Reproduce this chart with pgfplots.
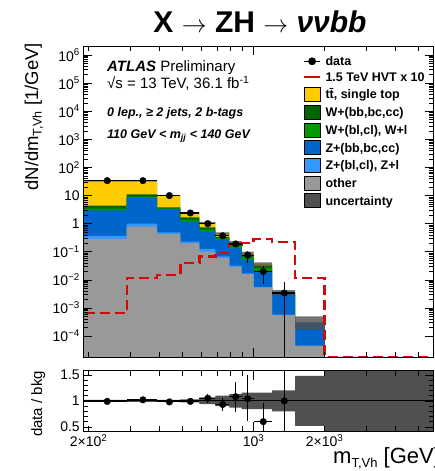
\documentclass[border=0pt]{standalone}
\usepackage{pgfplots}
\pgfplotsset{compat=1.18}
\usepackage{pgfplotstable}
\usepackage{fontspec}
\setmainfont{Liberation Sans}
\definecolor{ttc}{RGB}{255,204,0}
\definecolor{whf}{RGB}{0,102,0}
\definecolor{wl}{RGB}{0,153,0}
\definecolor{zhf}{RGB}{0,102,204}
\definecolor{zl}{RGB}{51,153,255}
\definecolor{oth}{RGB}{153,153,153}
\definecolor{sig}{RGB}{210,10,10}
\definecolor{unc}{RGB}{80,80,80}

\pgfplotstableread{
x other zl zhf wl whf tt
190 0.29 0.37 3.0 3.4 4.4 32
290 0.78 1.0 8.3 9.0 11 32
390 0.43 0.49 3.1 3.4 3.8 10
490 0.20 0.23 1.18 1.35 1.68 2.5
590 0.10 0.125 0.52 0.62 0.74 1.1
690 0.06 0.068 0.27 0.31 0.34 0.45
790 0.029 0.032 0.135 0.16 0.18 0.21
890 0.016 0.017 0.055 0.065 0.075 0.087
1000 0.0053 0.0056 0.020 0.026 0.032 0.036
1200 0.00056 0.00058 0.0031 0.0033 0.0034 0.0036
1500 0.000045 0.000046 0.00030 0.00030 0.00030 0.00030
2000 0.000045 0.000046 0.00030 0.00030 0.00030 0.00030
}\bkg

\pgfplotstableread{
x y xm xp ym yp
240 34 50 50 0.6 0.6
340 34 50 50 0.6 0.6
440 10 50 50 0.32 0.32
540 2.4 50 50 0.15 0.15
640 1.0 50 50 0.1 0.1
740 0.37 50 50 0.06 0.06
840 0.19 50 50 0.045 0.04
945 0.076 55 55 0.035 0.032
1100 0.020 100 100 0.0126 0.012
1350 0.0034 150 150 0.00339 0.0053
}\data

\pgfplotstableread{
x y xm xp ym yp
240 0.99 50 50 0.02 0.02
340 1.02 50 50 0.02 0.02
440 0.98 50 50 0.03 0.03
540 0.99 50 50 0.04 0.04
640 1.05 50 50 0.09 0.09
740 0.93 50 50 0.12 0.12
840 1.08 50 50 0.29 0.29
945 1.04 55 55 0.42 0.46
1100 0.60 100 100 0.6 0.36
1350 1.00 150 150 3 3
}\ratio

\pgfplotsset{
 boxleg/.style={legend image code/.code={\fill[##1] (0pt,-2.5pt) rectangle (16pt,11.5pt);}},
 lineleg/.style={legend image code/.code={\draw[##1] (0pt,4.5pt) -- (16pt,4.5pt);}},
 dataleg/.style={legend image code/.code={\draw[mark repeat=2,mark phase=2,##1] plot coordinates {(0pt,4.5pt) (8pt,4.5pt) (16pt,4.5pt)};}},
}

\begin{document}
\begin{tikzpicture}
\begin{axis}[
  scale only axis, width=350.4pt,
  xmode=log, xmin=190, xmax=5800,
  xtick={1000}, minor xtick={300,400,500,600,700,800,900,3000,4000,5000},
  extra x ticks={200,2000}, extra x tick style={major tick length=5pt},
  tick align=inside, major tick length=9pt, minor tick length=5pt,
  tick style={black, line width=0.6pt},
  axis line style={line width=0.8pt},
  axis on top,
  ticklabel style={font=\fontsize{14}{16}\selectfont},
  at={(83.3pt,-357pt)}, anchor=south west,
  height=311pt,
  ymode=log, log origin y=infty,
  ymin=1.8e-5, ymax=2.1e6,
  xticklabels={}, extra x tick labels={},
  ytick={1e-4,1e-3,0.01,0.1,1,10,100,1e3,1e4,1e5,1e6},
  yticklabel={\pgfmathtruncatemacro{\ee}{round(\tick/2.302585093)}\ifnum\ee=0 1\else\ifnum\ee=1 10\else\ifnum\ee<0 10\textsuperscript{−\the\numexpr-\ee\relax}\else 10\textsuperscript{\ee}\fi\fi\fi},
  legend cell align=left,
  legend style={at={(0.627,0.9669)}, anchor=north west, draw=none, fill=none,
    inner sep=0pt, outer sep=0pt, row sep=3pt, column sep=4.3pt,
    font=\fontsize{12.5}{14}\selectfont\bfseries,
    cells={anchor=base west},
    nodes={inner sep=0pt, text height=9.5pt, text depth=3pt}},
]
\addlegendimage{dataleg, black, line width=1.2pt, mark=*, mark size=3.3pt}
\addlegendentry{data}
\addlegendimage{lineleg, sig, line width=2.2pt}
\addlegendentry{1.5 TeV HVT x 10}
\addlegendimage{boxleg, fill=ttc}
\addlegendentry{t\={t}, single top}
\addlegendimage{boxleg, fill=whf}
\addlegendentry{W+(bb,bc,cc)}
\addlegendimage{boxleg, fill=wl}
\addlegendentry{W+(bl,cl), W+l}
\addlegendimage{boxleg, fill=zhf}
\addlegendentry{Z+(bb,bc,cc)}
\addlegendimage{boxleg, fill=zl}
\addlegendentry{Z+(bl,cl), Z+l}
\addlegendimage{boxleg, fill=oth}
\addlegendentry{other}
\addlegendimage{boxleg, fill=unc}
\addlegendentry{uncertainty}

\addplot[const plot, fill=ttc, draw=none, forget plot] table[x=x,y=tt]{\bkg} \closedcycle;
\addplot[const plot, fill=whf, draw=none, forget plot] table[x=x,y=whf]{\bkg} \closedcycle;
\addplot[const plot, fill=wl, draw=none, forget plot] table[x=x,y=wl]{\bkg} \closedcycle;
\addplot[const plot, fill=zhf, draw=none, forget plot] table[x=x,y=zhf]{\bkg} \closedcycle;
\addplot[const plot, fill=zl, draw=none, forget plot] table[x=x,y=zl]{\bkg} \closedcycle;
\addplot[const plot, fill=oth, draw=none, forget plot] table[x=x,y=other]{\bkg} \closedcycle;

\addplot[fill=unc, fill opacity=0.8, draw=none, forget plot] coordinates {
(190,32.6)(390,32.6)(390,10.2)(490,10.2)(490,2.58)(590,2.58)(590,1.17)(690,1.17)
(690,0.495)(790,0.495)(790,0.237)(890,0.237)(890,0.101)(1000,0.101)(1000,0.0418)(1200,0.0418)
(1200,0.00432)(1500,0.00432)(1500,5.0e-4)(2000,5.0e-4)
(2000,1.7e-4)(1500,1.7e-4)(1500,0.00288)(1200,0.00288)(1200,0.0302)(1000,0.0302)
(1000,0.073)(890,0.073)(890,0.183)(790,0.183)(790,0.405)(690,0.405)(690,1.03)(590,1.03)
(590,2.43)(490,2.43)(490,9.8)(390,9.8)(390,31.4)(190,31.4)} --cycle;

\addplot[sig, line width=2.2pt, dash pattern=on 10pt off 5pt, forget plot] coordinates {
(190,1.8e-5)(190,6.5e-4)(290,6.5e-4)(290,0.012)(390,0.012)(390,0.0148)(490,0.0148)
(490,0.041)(590,0.041)(590,0.068)(690,0.068)(690,0.092)(790,0.092)(790,0.18)(890,0.18)
(890,0.20)(1000,0.20)(1000,0.28)(1200,0.28)(1200,0.22)(1500,0.22)(1500,0.012)(2000,0.012)
(2000,1.8e-5)(5800,1.8e-5)};

\addplot[black, only marks, mark=*, mark size=3.3pt, forget plot,
  error bars/.cd, x dir=both, x explicit, y dir=both, y explicit,
  error bar style={line width=1.2pt, black}, error mark=none]
  table[x=x, y=y, x error plus=xp, x error minus=xm, y error plus=yp, y error minus=ym]{\data};
\end{axis}

\begin{axis}[
  scale only axis, width=350.4pt,
  xmode=log, xmin=190, xmax=5800,
  xtick={1000}, minor xtick={300,400,500,600,700,800,900,3000,4000,5000},
  extra x ticks={200,2000}, extra x tick style={major tick length=5pt},
  tick align=inside, major tick length=9pt, minor tick length=5pt,
  tick style={black, line width=0.6pt},
  axis line style={line width=0.8pt},
  axis on top,
  ticklabel style={font=\fontsize{14}{16}\selectfont},
  at={(83.3pt,-431pt)}, anchor=south west,
  height=60.3pt,
  ymin=0.42, ymax=1.58,
  ytick={0.5,1,1.5}, yticklabels={0.5,1,1.5}, minor y tick num=4,
  xticklabels={10\textsuperscript{3}},
  extra x tick labels={2×10\textsuperscript{2},2×10\textsuperscript{3}},
]
\addplot[fill=unc, draw=none] coordinates {
(190,1.02)(490,1.02)(490,1.03)(590,1.03)(590,1.065)(690,1.065)(690,1.10)(790,1.10)
(790,1.13)(890,1.13)(890,1.16)(1200,1.16)(1200,1.20)(1500,1.20)(1500,1.48)(2000,1.48)
(2000,2)(5800,2)(5800,0)(2000,0)(2000,0.52)(1500,0.52)(1500,0.80)(1200,0.80)(1200,0.84)
(890,0.84)(890,0.87)(790,0.87)(790,0.90)(690,0.90)(690,0.935)(590,0.935)(590,0.97)
(490,0.97)(490,0.98)(190,0.98)} --cycle;
\addplot[black, line width=1pt] coordinates {(190,1)(5800,1)};
\addplot[black, only marks, mark=*, mark size=3.3pt,
  error bars/.cd, x dir=both, x explicit, y dir=both, y explicit,
  error bar style={line width=1.2pt, black}, error mark=none]
  table[x=x, y=y, x error plus=xp, x error minus=xm, y error plus=yp, y error minus=ym]{\ratio};
\end{axis}

\node[anchor=base] at (260pt,-32pt) {\fontsize{30}{32}\selectfont\bfseries X $\rightarrow$ ZH $\rightarrow$ \textit{ννbb}};
\node[anchor=base east, rotate=90, inner sep=0pt] at (38pt,-43pt) {\fontsize{18.5}{20}\selectfont dN/dm\raisebox{-3.5pt}{\fontsize{12.5}{14}\selectfont T,Vh} [1/GeV]};
\node[anchor=base, rotate=90, inner sep=0pt] at (42pt,-404pt) {\fontsize{15}{17}\selectfont data / bkg};
\node[anchor=base west, inner sep=0pt] at (333pt,-463pt) {\fontsize{22}{24}\selectfont m\raisebox{-4.5pt}{\fontsize{13}{14}\selectfont T,Vh} [GeV]};
\node[anchor=base west, inner sep=0pt] at (107pt,-71.7pt) {\fontsize{15}{17}\selectfont\textbf{\textit{ATLAS}} Preliminary};
\node[anchor=base west, inner sep=0pt] at (107pt,-88.3pt) {\fontsize{15}{17}\selectfont √s = 13 TeV, 36.1 fb\textsuperscript{-1}};
\node[anchor=base west, inner sep=0pt] at (107pt,-116.7pt) {\fontsize{12.5}{14}\selectfont\bfseries\itshape 0 lep., ≥ 2 jets, 2 b-tags};
\node[anchor=base west, inner sep=0pt] at (107pt,-138pt) {\fontsize{12.5}{14}\selectfont\bfseries\itshape 110 GeV < m\textsubscript{jj} < 140 GeV};
\pgfresetboundingbox
\path (0pt,0pt) rectangle (434pt,-471pt);
\end{tikzpicture}
\end{document}
